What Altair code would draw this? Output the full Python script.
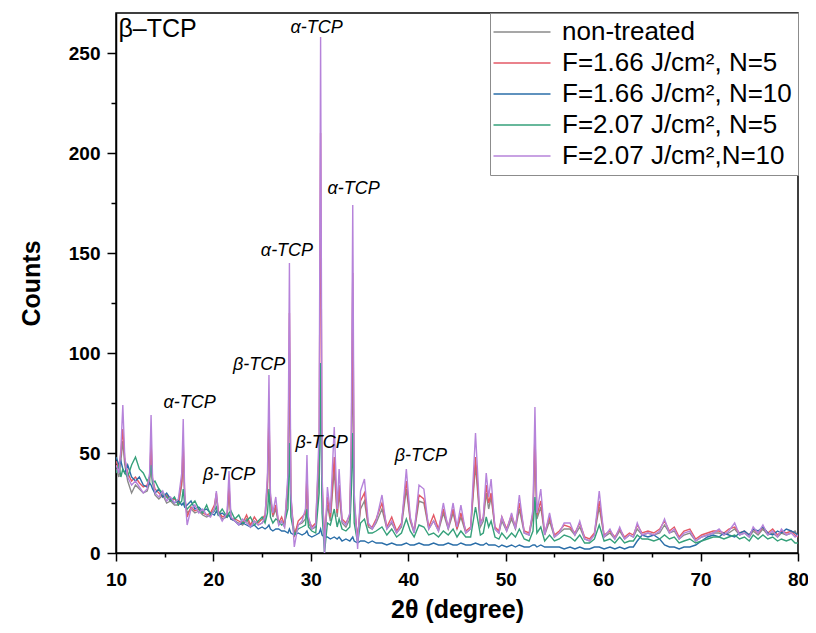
import altair as alt
import pandas as pd

# ---- data ----
two_theta = [
    10.0, 10.3, 10.5, 10.7, 10.9, 11.2, 11.6, 12.0, 12.4, 12.8, 13.2, 13.45, 13.6, 13.75,
    14.0, 14.4, 14.8, 15.2, 15.6, 16.0, 16.4, 16.75, 16.9, 17.05, 17.3,
    17.7, 18.1, 18.5, 18.9, 19.3, 19.7, 20.1, 20.3, 20.5, 20.9, 21.4, 21.6, 21.8,
    22.2, 22.6, 23.0, 23.4, 23.8, 24.2, 24.6, 25.0, 25.3, 25.55, 25.7, 25.85, 26.1, 26.4, 26.7, 27.0, 27.3,
    27.65, 27.8, 27.95, 28.3, 28.7, 29.1, 29.45, 29.6, 29.75, 30.1, 30.5, 30.85, 31.0, 31.15, 31.4, 31.7,
    32.0, 32.4, 32.7, 32.9, 33.2, 33.6, 34.0, 34.15, 34.3, 34.45, 34.8, 35.1, 35.5, 35.9, 36.3, 36.7,
    37.3, 37.8, 38.3, 38.8, 39.3, 39.8, 40.2, 40.6, 41.1, 41.6, 42.1, 42.6, 43.1, 43.6, 44.1, 44.6, 45.0, 45.4, 45.9,
    46.4, 46.9, 47.4, 47.7, 48.0, 48.25, 48.5, 48.9, 49.3, 49.6, 50.1, 50.6, 51.0, 51.4, 51.9, 52.4, 52.8, 53.0, 53.2, 53.6, 54.0, 54.5,
    55.0, 55.5, 56.0, 56.6, 57.1, 57.6, 58.1, 58.6, 59.1, 59.6, 60.1, 60.7, 61.2, 61.7, 62.2, 62.7, 63.1, 63.5, 64.0, 64.6,
    65.2, 65.8, 66.3, 66.8, 67.3, 67.8, 68.3, 68.9, 69.5, 70.1, 70.7, 71.3, 71.9, 72.4, 72.9, 73.5, 74.0, 74.5, 75.0, 75.4,
    75.9, 76.4, 76.9, 77.4, 77.9, 78.3, 78.8, 79.3, 79.7, 80.0,
]

non_treated = [
    42, 38, 46, 56, 44, 36, 30, 34, 32, 30, 31, 35, 48, 35,
    29, 27, 29, 25, 26, 24, 24, 34, 50, 27, 20,
    22, 20, 21, 19, 18, 19, 22, 28, 20, 17, 18, 30, 17,
    16, 15, 14, 17, 13, 16, 14, 15, 17, 32, 65, 26, 18, 22, 14, 16, 13,
    30, 100, 24, 10, 14, 15, 17, 34, 15, 12, 13, 40, 95, 30, 8, 24,
    16, 42, 18, 30, 15, 13, 17, 48, 100, 22, 8, 22, 26, 13, 12, 15,
    22, 12, 15, 10, 13, 32, 16, 10, 26, 25, 12, 16, 11, 20, 12, 20, 12, 18, 10,
    12, 44, 13, 16, 30, 22, 28, 12, 10, 16, 11, 17, 12, 22, 10, 9, 18, 52, 17, 23, 9, 16,
    8, 10, 12, 12, 9, 13, 7, 6, 9, 23, 8, 10, 7, 11, 7, 9, 8, 12, 9, 10,
    9, 10, 14, 10, 11, 7, 9, 10, 6, 8, 9, 10, 10, 9, 10, 12, 9, 10, 8, 11,
    9, 12, 9, 10, 8, 10, 9, 10, 11, 8,
]

f166_n5 = [
    46, 42, 50, 62, 47, 40, 36, 38, 35, 33, 34, 38, 55, 37,
    32, 30, 28, 29, 26, 27, 25, 36, 56, 29, 18,
    23, 21, 22, 20, 19, 20, 24, 30, 21, 18, 19, 34, 17,
    17, 16, 15, 19, 14, 18, 15, 17, 19, 36, 72, 28, 19, 24, 15, 18, 14,
    36, 120, 28, 8, 16, 18, 20, 40, 17, 13, 15, 52, 210, 36, 6, 28,
    18, 48, 20, 34, 17, 15, 19, 52, 140, 26, 6, 26, 30, 14, 13, 17,
    25, 13, 18, 11, 15, 36, 17, 11, 29, 27, 13, 19, 12, 22, 13, 22, 12, 20, 11,
    13, 48, 15, 18, 34, 25, 30, 13, 11, 18, 12, 19, 13, 25, 11, 10, 20, 60, 19, 26, 10, 18,
    9, 11, 14, 13, 10, 15, 8, 7, 10, 26, 9, 11, 8, 12, 8, 10, 9, 14, 10, 11,
    10, 12, 16, 11, 13, 8, 11, 12, 7, 9, 10, 11, 11, 10, 12, 13, 10, 11, 9, 12,
    10, 13, 10, 12, 9, 11, 10, 11, 9, 8,
]

f166_n10 = [
    48, 44, 46, 42, 40, 44, 38, 36, 38, 34, 33, 35, 34, 32,
    30, 32, 28, 30, 27, 25, 26, 24, 25, 23, 24,
    26, 22, 23, 21, 22, 20, 19, 21, 19, 20, 18, 19, 17,
    16, 14, 15, 14, 13, 14, 12, 13, 12, 13, 14, 12, 11, 12, 12, 11, 11,
    10, 12, 10, 9, 10, 9, 10, 11, 9, 8, 9, 10, 12, 9, 8, 8,
    7, 8, 7, 8, 6, 7, 6, 7, 8, 6, 5, 6, 6, 5, 6, 5,
    5, 4, 5, 4, 4, 5, 4, 4, 5, 4, 4, 5, 4, 4, 5, 4, 4, 5, 4,
    4, 5, 4, 4, 5, 4, 4, 4, 3, 4, 3, 4, 3, 4, 3, 3, 4, 4, 3, 4, 3, 3,
    3, 3, 2, 3, 2, 3, 2, 2, 3, 3, 2, 3, 2, 3, 2, 3, 3, 6, 9, 8,
    9, 7, 4, 3, 3, 2, 3, 3, 4, 6, 8, 9, 8, 10, 9, 8, 10, 11, 9, 12,
    11, 13, 10, 9, 11, 10, 12, 11, 10, 9,
]

f207_n5 = [
    40, 44, 38, 42, 40, 38, 44, 48, 42, 40, 36, 38, 44, 35,
    36, 32, 30, 28, 26, 28, 24, 26, 32, 24, 22,
    24, 26, 22, 20, 24, 19, 21, 23, 19, 22, 18, 20, 21,
    17, 19, 15, 16, 18, 14, 16, 18, 15, 20, 32, 18, 15, 17, 16, 14, 15,
    22, 55, 18, 9, 12, 13, 14, 22, 13, 11, 10, 30, 95, 20, 0, 15,
    14, 22, 13, 17, 12, 11, 13, 30, 60, 15, 5, 15, 17, 10, 10, 11,
    13, 9, 12, 8, 10, 17, 11, 8, 14, 13, 9, 10, 8, 11, 9, 12, 8, 11, 8,
    8, 23, 9, 10, 18, 13, 16, 8, 7, 10, 7, 10, 8, 12, 7, 6, 11, 28, 10, 13, 6, 9,
    6, 7, 9, 8, 6, 9, 5, 5, 7, 14, 6, 7, 5, 8, 5, 6, 6, 9, 7, 7,
    6, 7, 9, 7, 8, 5, 6, 7, 5, 6, 7, 8, 8, 7, 8, 9, 7, 8, 6, 9,
    7, 9, 7, 8, 6, 7, 6, 7, 5, 5,
]

f207_n10 = [
    44, 40, 52, 74, 48, 38, 34, 36, 33, 30, 32, 40, 69, 38,
    30, 28, 31, 26, 28, 25, 27, 40, 67, 30, 14,
    22, 24, 20, 22, 19, 18, 22, 31, 20, 16, 20, 41, 18,
    16, 14, 17, 15, 13, 16, 14, 15, 18, 40, 89, 30, 20, 28, 14, 16, 13,
    40, 145, 30, 3, 14, 16, 22, 49, 18, 12, 14, 60, 258, 40, 0, 33,
    20, 63, 22, 42, 16, 14, 20, 60, 174, 30, 2, 31, 37, 15, 12, 16,
    29, 12, 16, 10, 14, 42, 18, 10, 34, 32, 12, 16, 11, 25, 12, 25, 13, 24, 10,
    12, 60, 14, 18, 40, 28, 37, 12, 10, 18, 11, 20, 12, 29, 10, 9, 22, 73, 20, 32, 9, 20,
    8, 10, 15, 15, 9, 16, 7, 6, 9, 31, 8, 12, 7, 13, 7, 9, 8, 15, 9, 10,
    9, 11, 17, 10, 12, 7, 10, 11, 6, 8, 9, 10, 12, 9, 11, 15, 9, 10, 8, 13,
    10, 14, 9, 11, 8, 12, 9, 10, 8, 9,
]

series_names = [
    "non-treated",
    "F=1.66 J/cm², N=5",
    "F=1.66 J/cm², N=10",
    "F=2.07 J/cm², N=5",
    "F=2.07 J/cm²,N=10",
]
series_colors = ["#8a8a8a", "#e35866", "#2a6ea8", "#35a07a", "#b683da"]
series_values = [non_treated, f166_n5, f166_n10, f207_n5, f207_n10]

# peak annotations
ann_text = ["α-TCP", "α-TCP", "α-TCP", "β-TCP", "α-TCP", "β-TCP", "β-TCP", "β-TCP"]
ann_x = [30.6, 34.4, 27.55, 24.7, 17.55, 21.6, 31.1, 41.3]
ann_y = [262.5, 182, 151, 94, 75, 39, 55, 48.5]

panel_label = ["β–TCP"]
panel_x = [10.25]
panel_y = [262]

# ---- build table ----
rows = []
for name, vals in zip(series_names, series_values):
    assert len(vals) == len(two_theta), name
    for xv, yv in zip(two_theta, vals):
        rows.append({"x": xv, "y": yv, "series": name})
df = pd.DataFrame(rows)

ann_df = pd.DataFrame({"x": ann_x, "y": ann_y, "t": ann_text})
panel_df = pd.DataFrame({"x": panel_x, "y": panel_y, "t": panel_label})

FONT = "Liberation Sans"

x_scale = alt.Scale(domain=[10, 80], nice=False, zero=False)
y_scale = alt.Scale(domain=[0, 270], nice=False)

x_axis = alt.Axis(
    title="2θ (degree)",
    values=list(range(10, 81, 5)),
    labelExpr="datum.value % 10 === 0 ? datum.label : ''",
    tickSize={"condition": {"test": "datum.value % 10 === 0", "value": 8}, "value": 4},
    labelFont=FONT, labelFontSize=19, labelFontWeight="bold", labelColor="black",
    titleFont=FONT, titleFontSize=25, titleFontWeight="bold", titleColor="black",
    labelPadding=9, titlePadding=8,
    domainColor="black", domainWidth=1.5, tickColor="black", tickWidth=1.5,
    grid=False, labelFlush=False,
)
y_axis = alt.Axis(
    title="Counts",
    values=list(range(0, 251, 25)),
    labelExpr="datum.value % 50 === 0 ? datum.label : ''",
    tickSize={"condition": {"test": "datum.value % 50 === 0", "value": 9}, "value": 5},
    labelFont=FONT, labelFontSize=19, labelFontWeight="bold", labelColor="black",
    titleFont=FONT, titleFontSize=25, titleFontWeight="bold", titleColor="black",
    labelPadding=7, titlePadding=24,
    domainColor="black", domainWidth=1.5, tickColor="black", tickWidth=1.5,
    grid=False, labelFlush=False,
)

lines = alt.Chart(df).mark_line(strokeWidth=1.4, clip=True).encode(
    x=alt.X("x:Q", scale=x_scale, axis=x_axis),
    y=alt.Y("y:Q", scale=y_scale, axis=y_axis),
    color=alt.Color(
        "series:N",
        scale=alt.Scale(domain=series_names, range=series_colors),
        sort=series_names,
        legend=alt.Legend(
            title=None,
            orient="none",
            legendX=374,
            legendY=0,
            symbolType="M-2.85,0H2.85",
            symbolSize=400,
            symbolStrokeWidth=1.5,
            symbolOffset=13,
            labelOffset=27,
            labelFont=FONT,
            labelFontSize=26,
            labelColor="black",
            labelLimit=400,
            labelExpr="datum.label == 'non-treated' ? datum.label : '\u00a0' + datum.label",
            rowPadding=5,
            padding=6,
            strokeColor="#8c8c8c",
            fillColor="white",
        ),
    ),
)

ann = alt.Chart(ann_df).mark_text(
    font=FONT, fontSize=18, fontStyle="italic", color="black", align="center", baseline="middle"
).encode(x=alt.X("x:Q", scale=x_scale), y=alt.Y("y:Q", scale=y_scale), text="t:N")

panel = alt.Chart(panel_df).mark_text(
    font=FONT, fontSize=25, color="black", align="left", baseline="middle"
).encode(x=alt.X("x:Q", scale=x_scale), y=alt.Y("y:Q", scale=y_scale), text="t:N")

chart = (
    alt.layer(lines, ann, panel)
    .properties(
        width=682,
        height=540,
        autosize=alt.AutoSizeParams(type="none"),
        padding={"left": 108, "top": 5, "right": 10, "bottom": 72},
        background="white",
    )
    .configure_view(stroke="black", strokeWidth=1.5)
)

chart.save("out.html", embed_options={"renderer": "svg", "actions": False})
